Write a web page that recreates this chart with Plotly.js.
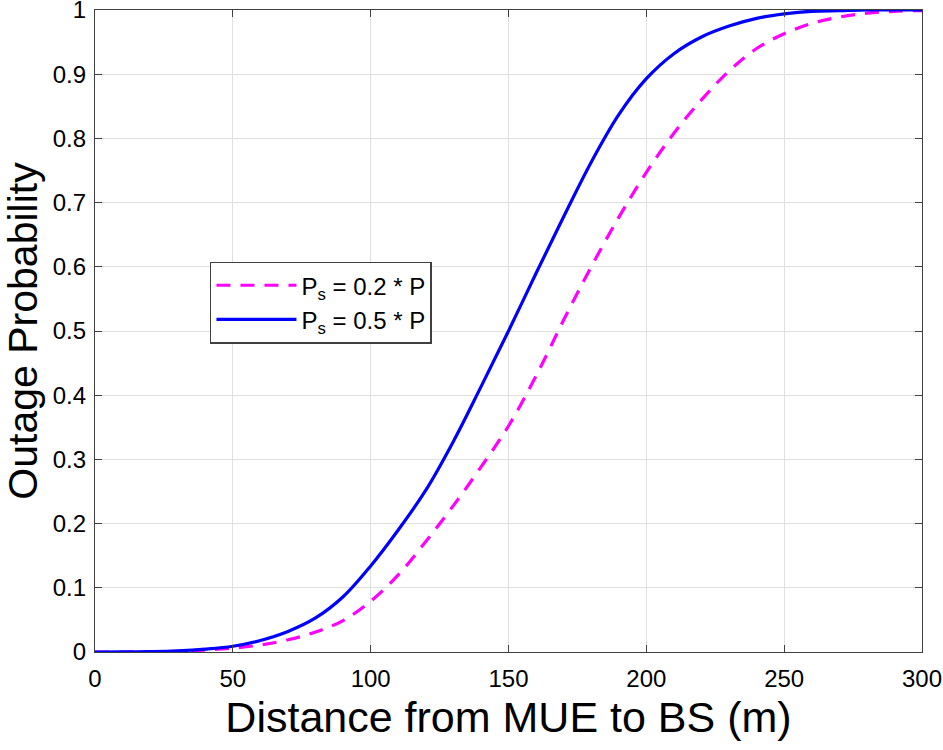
<!DOCTYPE html>
<html>
<head>
<meta charset="utf-8">
<script src="https://cdn.plot.ly/plotly-3.0.1.min.js"></script>
<style>html,body{margin:0;padding:0;background:#fff;}#chart{width:943px;height:750px;}</style>
</head>
<body>
<div id="chart"></div>
<script>
const distance = [0,10,20,30,40,50,60,70,80,90,100,110,120,130,140,150,160,170,180,190,200,210,220,230,240,250,260,270,280,290,300];
const outage02 = [0,0,0.0003,0.0012,0.003,0.006,0.011,0.019,0.031,0.049,0.079,0.12,0.172,0.228,0.288,0.352,0.43,0.517,0.6,0.677,0.747,0.808,0.86,0.905,0.94,0.963,0.979,0.989,0.995,0.998,0.999];
const outage05 = [0,0.0001,0.0006,0.0018,0.0045,0.009,0.018,0.032,0.053,0.086,0.134,0.19,0.252,0.328,0.413,0.5,0.59,0.678,0.763,0.837,0.893,0.932,0.958,0.975,0.987,0.994,0.998,0.999,1,1,1];
const seriesNames = ["P<sub>s</sub> = 0.2 * P", "P<sub>s</sub> = 0.5 * P"];
const xTicks = [0,50,100,150,200,250,300];
const yTicks = [0,0.1,0.2,0.3,0.4,0.5,0.6,0.7,0.8,0.9,1];
const yTickText = ["0","0.1","0.2","0.3","0.4","0.5","0.6","0.7","0.8","0.9","1"];

const traces = [
  {x: distance, y: outage02, name: seriesNames[0], mode: 'lines',
   line: {color: '#FF00FF', width: 3.2, dash: '14px,10px', shape: 'spline', smoothing: 1}},
  {x: distance, y: outage05, name: seriesNames[1], mode: 'lines',
   line: {color: '#0000FF', width: 3.2, shape: 'spline', smoothing: 1}}
];

const FONT = 'Liberation Sans, Arial, sans-serif';
const axisCommon = {
  showline: true, linecolor: '#404040', linewidth: 1.2, mirror: 'ticks',
  ticks: 'inside', ticklen: 7, tickcolor: '#404040',
  showgrid: true, gridcolor: '#e0e0e0', gridwidth: 1, zeroline: false,
  ticklabeloverflow: 'allow',
  tickfont: {family: FONT, size: 24, color: '#000'}
};

const layout = {
  width: 943, height: 750,
  margin: {l: 95, r: 21, t: 10, b: 98},
  paper_bgcolor: '#fff', plot_bgcolor: '#fff',
  showlegend: true,
  legend: {x: 0.139, y: 0.608, xanchor: 'left', yanchor: 'top',
    bgcolor: '#fff', bordercolor: '#404040', borderwidth: 1.5,
    font: {family: FONT, size: 24, color: '#000'},
    itemwidth: 80, tracegroupgap: 0},
  xaxis: Object.assign({}, axisCommon, {range: [0, 300], tickmode: 'array', tickvals: xTicks,
    ticklabelstandoff: 5,
    title: {text: 'Distance from MUE to BS (m)', standoff: 10,
      font: {family: FONT, size: 43, color: '#000'}}}),
  yaxis: Object.assign({}, axisCommon, {range: [0, 1], tickmode: 'array', tickvals: yTicks, ticktext: yTickText,
    ticklabelstandoff: 3,
    title: {text: 'Outage Probability', standoff: 5,
      font: {family: FONT, size: 41, color: '#000'}}})
};

Plotly.newPlot('chart', traces, layout, {displayModeBar: false, staticPlot: true});
</script>
</body>
</html>
